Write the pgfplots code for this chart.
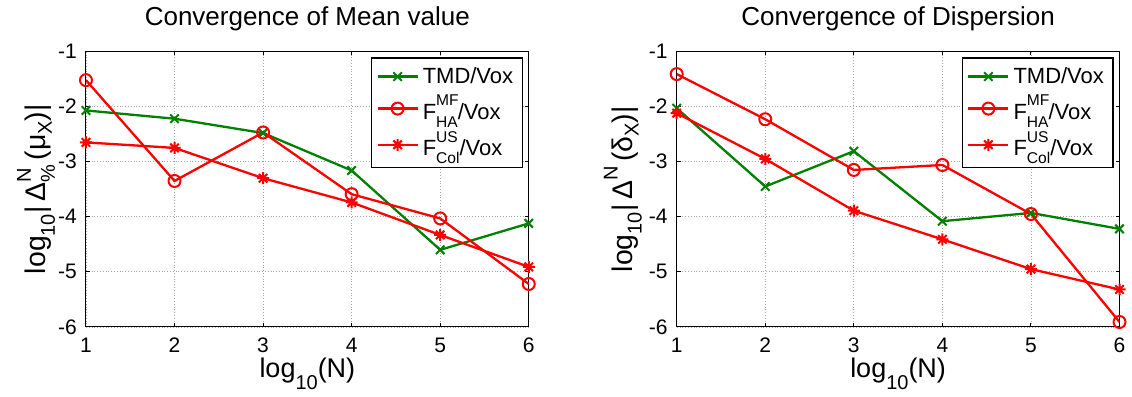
\documentclass[border=0pt]{standalone}
\usepackage{fontspec}
\setmainfont{Liberation Sans}
\usepackage{pgfplots}
\pgfplotsset{compat=1.18}
\definecolor{mgreen}{rgb}{0,0.5,0}
\pgfdeclareplotmark{ast8}{%
  \pgfpathmoveto{\pgfqpoint{-\pgfplotmarksize}{0pt}}\pgfpathlineto{\pgfqpoint{\pgfplotmarksize}{0pt}}%
  \pgfpathmoveto{\pgfqpoint{0pt}{-\pgfplotmarksize}}\pgfpathlineto{\pgfqpoint{0pt}{\pgfplotmarksize}}%
  \pgfpathmoveto{\pgfqpoint{-0.707\pgfplotmarksize}{-0.707\pgfplotmarksize}}\pgfpathlineto{\pgfqpoint{0.707\pgfplotmarksize}{0.707\pgfplotmarksize}}%
  \pgfpathmoveto{\pgfqpoint{-0.707\pgfplotmarksize}{0.707\pgfplotmarksize}}\pgfpathlineto{\pgfqpoint{0.707\pgfplotmarksize}{-0.707\pgfplotmarksize}}%
  \pgfusepathqstroke}
% legend stacked super/subscripts
\newcommand{\gsup}[1]{\raisebox{6.7pt}{\fontsize{7.8}{8}\selectfont #1}}
\newcommand{\gsub}[1]{\raisebox{-4.2pt}{\fontsize{7.8}{8}\selectfont #1}}
\newcommand{\FF}[2]{F\rlap{\gsup{#1}}\gsub{#2}}
% label super/subscripts
\newcommand{\lsup}[1]{\raisebox{7.5pt}{\fontsize{10}{10}\selectfont #1}}
\newcommand{\lsub}[2][-4.5pt]{\raisebox{#1}{\fontsize{10}{10}\selectfont #2}}
\pgfplotsset{
  mystyle/.style={
    scale only axis, width=221.5pt, height=137.8pt,
    xmin=1, xmax=6, ymin=-6, ymax=-1,
    xtick={1,2,3,4,5,6}, ytick={-6,-5,-4,-3,-2,-1},
    /pgf/number format/assume math mode=true,
    tick label style={font=\fontsize{10.5}{12}\selectfont},
    xticklabel style={yshift=-2pt},
    yticklabel style={xshift=-1pt},
    major tick length=2pt, tick style={black, line width=0.5pt},
    axis line style={line width=0.5pt},
    grid=major, grid style={densely dotted, gray!70, line width=0.4pt},
    title style={font=\fontsize{13}{14}\selectfont, at={(axis description cs:0.5,1)}, anchor=base, yshift=7pt},
    xlabel style={font=\fontsize{13.5}{15}\selectfont, at={(axis description cs:0.5,0)}, anchor=base, yshift=-25.5pt},
    ylabel style={font=\fontsize{14.2}{15}\selectfont},
    legend cell align=left,
    legend style={at={(1,1)}, anchor=north east, xshift=-3pt, yshift=-3pt,
      font=\fontsize{11}{12}\selectfont, draw=black, line width=0.6pt,
      row sep=0.5pt, inner sep=2.5pt},
    legend image code/.code={\draw[mark repeat=2,mark phase=2,#1] plot coordinates {(0pt,0pt) (10pt,0pt) (20pt,0pt)};},
  },
  s1/.style={mgreen, line width=1.15pt, mark=x, mark size=3pt, mark options={line width=1pt}},
  s2/.style={red, line width=1.15pt, mark=o, mark size=3pt, mark options={line width=1pt}},
  s3/.style={red, line width=1.15pt, mark=ast8, mark size=3pt, mark options={line width=1pt}},
}
\pgfplotstableread{
x tmd mf us
1 -2.07 -1.52 -2.65
2 -2.22 -3.35 -2.75
3 -2.48 -2.47 -3.30
4 -3.16 -3.59 -3.74
5 -4.60 -4.03 -4.33
6 -4.12 -5.22 -4.91
}\meandata
\pgfplotstableread{
x tmd mf us
1 -2.03 -1.41 -2.12
2 -3.45 -2.23 -2.95
3 -2.81 -3.15 -3.89
4 -4.08 -3.06 -4.41
5 -3.93 -3.95 -4.95
6 -4.22 -5.91 -5.32
}\dispdata
\begin{document}
\begin{tikzpicture}
\begin{axis}[mystyle, at={(0pt,0pt)}, anchor=south west,
  title={Convergence of Mean value},
  xlabel={log\lsub[-6pt]{10}(N)},
  ylabel={log\lsub{10}|\,Δ\rlap{\lsup{N}}\lsub{\%}\,(μ\lsub[-3pt]{X})|},
  ylabel style={at={(axis description cs:-0.0903,0.5)}, anchor=base, rotate=0},
]
\addplot[s1] table[x=x,y=tmd]{\meandata};
\addplot[s2] table[x=x,y=mf]{\meandata};
\addplot[s3] table[x=x,y=us]{\meandata};
\legend{TMD/Vox, \FF{MF}{HA}/Vox, \FF{US}{Col}/Vox}
\end{axis}
\begin{axis}[mystyle, at={(295.5pt,0pt)}, anchor=south west,
  title={Convergence of Dispersion},
  xlabel={log\lsub[-6pt]{10}(N)},
  ylabel={log\lsub{10}|\,Δ\lsup{N}\,(δ\lsub[-3pt]{X})|},
  ylabel style={at={(axis description cs:-0.0993,0.5)}, anchor=base, rotate=0},
]
\addplot[s1] table[x=x,y=tmd]{\dispdata};
\addplot[s2] table[x=x,y=mf]{\dispdata};
\addplot[s3] table[x=x,y=us]{\dispdata};
\legend{TMD/Vox, \FF{MF}{HA}/Vox, \FF{US}{Col}/Vox}
\end{axis}
\path[use as bounding box] (-43pt,-33.85pt) rectangle (523pt,159.65pt);
\end{tikzpicture}
\end{document}
